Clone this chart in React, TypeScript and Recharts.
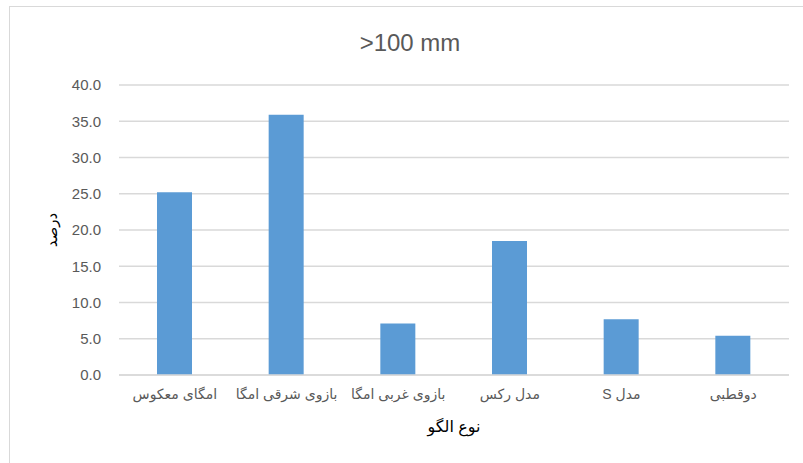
import { BarChart, Bar, XAxis, YAxis, CartesianGrid, Label } from "recharts";

const categories = [
  "امگای معکوس",
  "بازوی شرقی امگا",
  "بازوی غربی امگا",
  "مدل رکس",
  "مدل S",
  "دوقطبی",
];
const percents = [25.2, 35.9, 7.1, 18.5, 7.7, 5.4];
const yTicks = [0, 5, 10, 15, 20, 25, 30, 35, 40];

const data = categories.map((name, i) => ({ name, value: percents[i] }));

const textColor = "#595959";
const gridColor = "#d9d9d9";
const font = "'Liberation Sans', 'DejaVu Sans', sans-serif";

function YTitle(props: any) {
  const vb = props.viewBox || {};
  const cx = vb.x - 9;
  const cy = vb.y + vb.height / 2;
  return (
    <text
      x={cx}
      y={cy}
      transform={`rotate(-90, ${cx}, ${cy})`}
      textAnchor="middle"
      dominantBaseline="central"
      fontSize={15}
      fill="#000"
      fontFamily={font}
    >
      درصد
    </text>
  );
}

function XTick(props: any) {
  const { x, y, payload } = props;
  return (
    <text
      x={x}
      y={y + 16}
      textAnchor="middle"
      direction="rtl"
      fontSize={14}
      fill={textColor}
      fontFamily={font}
    >
      {payload.value}
    </text>
  );
}

export default function App() {
  return (
    <div style={{ position: "relative", width: 803, height: 463, overflow: "hidden", background: "#fff" }}>
      <style>{`body{margin:0}`}</style>
      <div
        style={{
          position: "absolute",
          left: 9,
          top: 6,
          width: 900,
          height: 600,
          border: `1px solid ${gridColor}`,
        }}
      />
      <div
        style={{
          position: "absolute",
          left: 0,
          width: 820,
          top: 29,
          textAlign: "center",
          fontFamily: font,
          fontSize: 24,
          color: textColor,
        }}
      >
        &gt;100 mm
      </div>
      <BarChart
        width={803}
        height={463}
        data={data}
        margin={{ top: 85, right: 14, left: 60, bottom: 58 }}
        style={{ position: "absolute", left: 0, top: 0 }}
      >
        <CartesianGrid vertical={false} stroke={gridColor} strokeWidth={1.3} />
        <XAxis
          dataKey="name"
          interval={0}
          height={30}
          tickLine={false}
          axisLine={{ stroke: gridColor, strokeWidth: 1.3 }}
          tick={<XTick />}
        >
          <Label
            value="نوع الگو"
            position="bottom"
            offset={16}
            style={{ fontSize: 16, fill: "#000", fontFamily: font }}
          />
        </XAxis>
        <YAxis
          width={59}
          domain={[0, 40]}
          ticks={yTicks}
          tickFormatter={(v: number) => v.toFixed(1)}
          tickLine={false}
          axisLine={false}
          tickSize={0}
          tickMargin={18}
          tick={{ fontSize: 15, fill: textColor, fontFamily: font }}
        >
          <Label content={<YTitle />} />
        </YAxis>
        <Bar dataKey="value" fill="#5b9bd5" barSize={35} isAnimationActive={false} />
      </BarChart>
    </div>
  );
}
